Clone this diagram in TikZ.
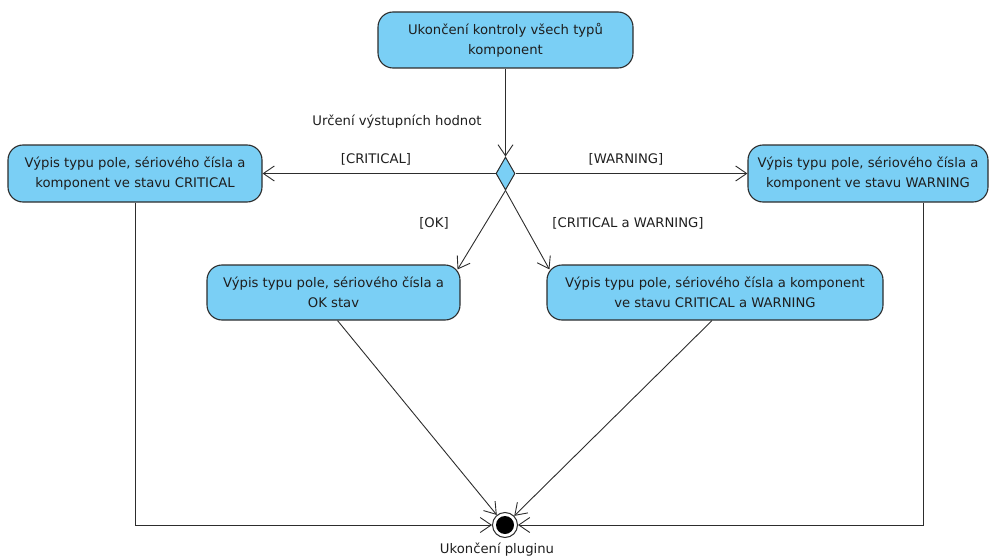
\documentclass[tikz,border=0pt]{standalone}
\usepackage{fontspec}
\setmainfont{DejaVu Sans}
\usetikzlibrary{shapes.geometric,arrows.meta,calc}
\definecolor{actfill}{RGB}{122,207,245}
\definecolor{lin}{RGB}{45,45,45}
\definecolor{txt}{RGB}{30,30,30}
\tikzset{
  action/.style={draw=lin, line width=1.1pt, fill=actfill, rounded corners=15pt,
    inner sep=0pt, align=center, text=txt, font=\fontsize{13.2}{20}\selectfont},
  lbl/.style={text=txt, inner sep=0pt, font=\fontsize{13.2}{16}\selectfont},
  arr/.style={draw=lin, line width=0.9pt, -{Straight Barb[length=11pt,width=15pt,line width=0.9pt]}},
}
\begin{document}
\begin{tikzpicture}[x=1pt,y=-1pt]
\useasboundingbox (0,0) rectangle (990,559);
\node[action, minimum width=255pt, minimum height=56pt] (top) at (505.5,40) {Ukončení kontroly všech typů\\komponent};
\node[action, minimum width=254pt, minimum height=57pt] (left) at (135,173.5) {Výpis typu pole, sériového čísla a\\komponent ve stavu CRITICAL};
\node[action, minimum width=240pt, minimum height=57pt] (right) at (868,173.5) {Výpis typu pole, sériového čísla a\\komponent ve stavu WARNING};
\node[action, minimum width=253pt, minimum height=55pt] (ok) at (333.5,292.5) {Výpis typu pole, sériového čísla a\\OK stav};
\node[action, minimum width=336pt, minimum height=55pt] (cw) at (715,292.5) {Výpis typu pole, sériového čísla a komponent\\ve stavu CRITICAL a WARNING};
\node[diamond, draw=lin, line width=1pt, fill=actfill, inner sep=0pt, minimum width=19pt, minimum height=33pt] (dia) at (505.5,173.5) {};
\node[circle, draw=lin, line width=1pt, fill=white, minimum size=25pt, inner sep=0pt] (fin) at (505,525) {};
\fill[black] (fin.center) circle (9pt);

\node[lbl] (l0) at (397,122) {Určení výstupních hodnot};
\node[lbl] (l1) at (376,159) {[CRITICAL]};
\node[lbl] (l2) at (626,159) {[WARNING]};
\node[lbl] (l3) at (434,223) {[OK]};
\node[lbl] (l4) at (628,223) {[CRITICAL a WARNING]};
\node[lbl] (l5) at (497,550) {Ukončení pluginu};

\draw[arr] (top.south) -- (dia.north);
\draw[arr] (dia.west) -- (left.east);
\draw[arr] (dia.east) -- (right.west);
\draw[arr] (dia.south) -- ($(ok.north east)+(-3,5)$);
\draw[arr] (dia.south) -- ($(cw.north west)+(3,5)$);
\draw[arr] ($(ok.south)+(4,0)$) -- (fin);
\draw[arr] ($(cw.south)+(-3,0)$) -- (fin);
\draw[arr] (left.south) |- (fin);
\draw[arr] ($(right.south)+(55,0)$) |- (fin);
\end{tikzpicture}
\end{document}
